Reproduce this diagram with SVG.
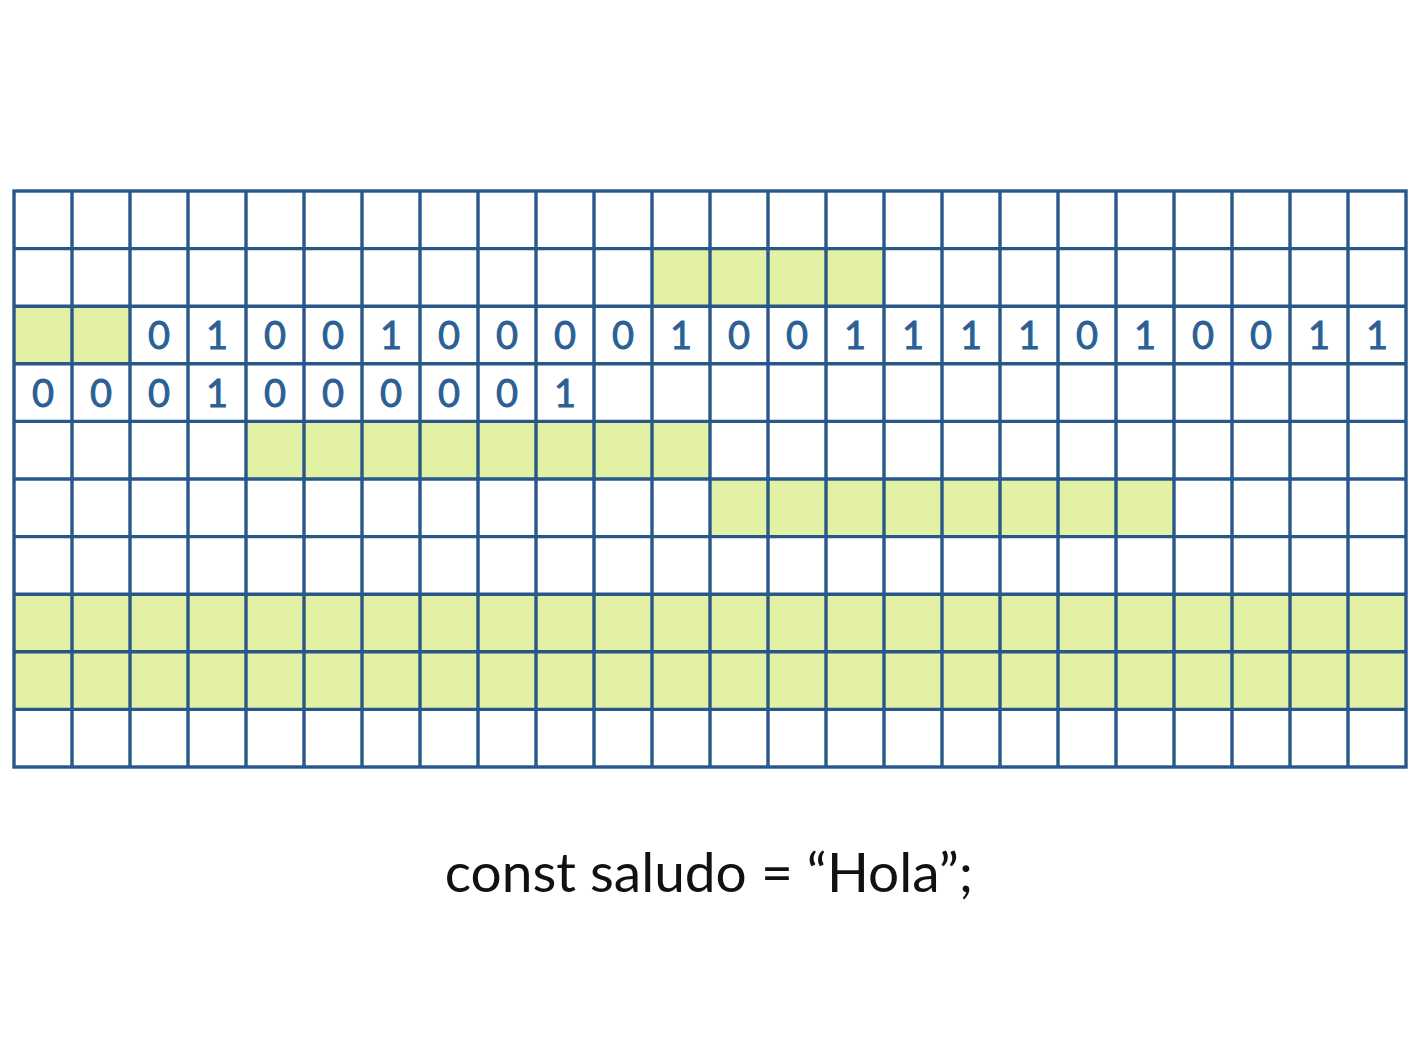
<svg xmlns="http://www.w3.org/2000/svg" width="1422" height="1038" viewBox="0 0 1422 1038">
<style>
.g{fill:#e2f1a4}
.d{font-family:Lato,"Open Sans",sans-serif;font-size:38px;fill:#2c5f94;stroke:#2c5f94;stroke-width:0.9;text-anchor:middle}
.ln{stroke:#285889;stroke-width:3.4;fill:none}
.cap{font-family:Lato,"Open Sans",sans-serif;font-size:55px;fill:#111;text-anchor:middle}
</style>
<rect width="1422" height="1038" fill="#fff"/>
<g id="cells">
<rect class="g" x="652" y="248.6" width="232" height="57.6"/>
<rect class="g" x="14" y="306.2" width="116" height="57.6"/>
<rect class="g" x="246" y="421.4" width="464" height="57.6"/>
<rect class="g" x="710" y="479" width="464" height="57.6"/>
<rect class="g" x="14" y="594.2" width="1392" height="115.2"/>
</g>
<g id="grid" class="ln">
<rect x="14" y="191" width="1392" height="576"/>
<path d="M72 191V767M130 191V767M188 191V767M246 191V767M304 191V767M362 191V767M420 191V767M478 191V767M536 191V767M594 191V767M652 191V767M710 191V767M768 191V767M826 191V767M884 191V767M942 191V767M1000 191V767M1058 191V767M1116 191V767M1174 191V767M1232 191V767M1290 191V767M1348 191V767"/>
<path d="M14 248.6H1406M14 306.2H1406M14 363.8H1406M14 421.4H1406M14 479H1406M14 536.6H1406M14 594.2H1406M14 651.8H1406M14 709.4H1406"/>
</g>
<g id="row2" class="d">
<text x="159" y="349">0</text><text x="217" y="349">1</text><text x="275" y="349">0</text><text x="333" y="349">0</text>
<text x="391" y="349">1</text><text x="449" y="349">0</text><text x="507" y="349">0</text><text x="565" y="349">0</text>
<text x="623" y="349">0</text><text x="681" y="349">1</text><text x="739" y="349">0</text><text x="797" y="349">0</text>
<text x="855" y="349">1</text><text x="913" y="349">1</text><text x="971" y="349">1</text><text x="1029" y="349">1</text>
<text x="1087" y="349">0</text><text x="1145" y="349">1</text><text x="1203" y="349">0</text><text x="1261" y="349">0</text>
<text x="1319" y="349">1</text><text x="1377" y="349">1</text>
</g>
<g id="row3" class="d">
<text x="43" y="407">0</text><text x="101" y="407">0</text><text x="159" y="407">0</text><text x="217" y="407">1</text>
<text x="275" y="407">0</text><text x="333" y="407">0</text><text x="391" y="407">0</text><text x="449" y="407">0</text>
<text x="507" y="407">0</text><text x="565" y="407">1</text>
</g>
<g id="caption">
<text class="cap" x="709" y="892">const saludo = “Hola”;</text>
</g>
</svg>
